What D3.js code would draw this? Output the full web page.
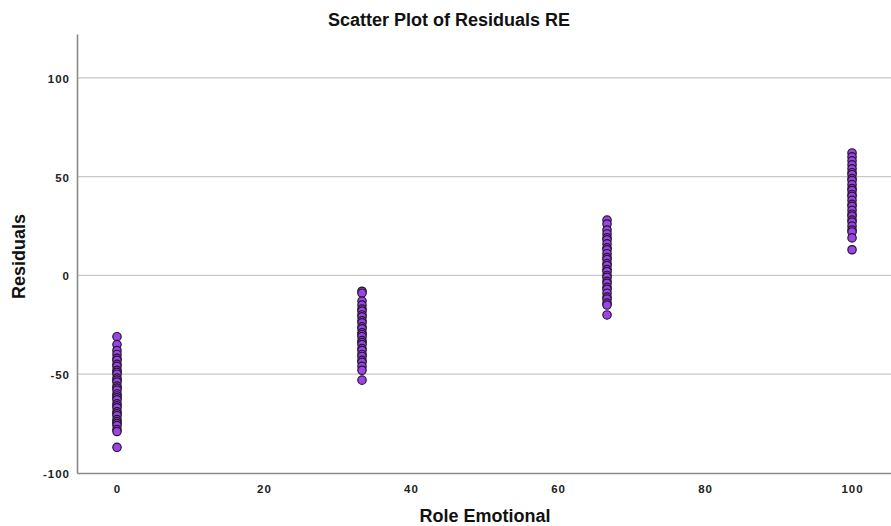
<!DOCTYPE html>
<html>
<head>
<meta charset="utf-8">
<script src="https://cdn.jsdelivr.net/npm/d3@7"></script>
<style>
  html, body { margin: 0; padding: 0; background: #fff; }
  svg { display: block; font-family: "Liberation Sans", Arial, Helvetica, sans-serif; }
</style>
</head>
<body>
<svg id="chart" width="891" height="526"></svg>
<script>
// Residuals grouped by Role Emotional score
const re0   = [-31, -35, -38, -40, -42, -43, -45, -46, -48, -49, -50, -52, -53, -54, -56, -57, -58, -60, -61, -62, -63, -65, -66, -67, -69, -70, -71, -73, -74, -75, -76, -78, -79, -87];
const re33  = [-8, -9, -13, -15, -17, -18, -20, -21, -23, -24, -26, -27, -29, -30, -31, -33, -34, -35, -37, -38, -40, -41, -43, -44, -46, -48, -53];
const re67  = [28, 26, 23, 21, 19, 18, 16, 14, 13, 11, 9, 8, 6, 5, 3, 2, 0, -1, -3, -4, -6, -7, -9, -11, -12, -14, -15, -20];
const re100 = [62, 60, 58, 56, 54, 52, 51, 49, 48, 46, 44, 43, 41, 40, 38, 36, 35, 33, 31, 30, 28, 27, 25, 23, 22, 19, 13];

const groups = [
  { x: 0,       values: re0 },
  { x: 100 / 3, values: re33 },
  { x: 200 / 3, values: re67 },
  { x: 100,     values: re100 }
];

const xTicks = [0, 20, 40, 60, 80, 100];
const yTicks = [-100, -50, 0, 50, 100];
const gridTicks = [-50, 0, 50, 100];

const points = groups.flatMap(g => g.values.map(v => ({ x: g.x, y: v })));

const svg = d3.select("#chart");
const plotLeft = 77, plotRight = 891, plotTop = 34, plotBottom = 473;

const x = d3.scaleLinear().domain([-5.44, 105.3]).range([plotLeft, plotRight]);
const y = d3.scaleLinear().domain([-100, 122.2]).range([plotBottom, plotTop]);

// horizontal reference lines
svg.append("g")
  .selectAll("line")
  .data(gridTicks)
  .join("line")
  .attr("x1", plotLeft).attr("x2", plotRight)
  .attr("y1", d => y(d)).attr("y2", d => y(d))
  .attr("stroke", "#c8c8c8")
  .attr("stroke-width", 1.2);

// axes (plain hyphen for negative labels)
const plain = d => String(d);
const xAxis = d3.axisBottom(x).tickValues(xTicks).tickFormat(plain).tickSize(0).tickPadding(12);
const yAxis = d3.axisLeft(y).tickValues(yTicks).tickFormat(plain).tickSize(0).tickPadding(7);

const gx = svg.append("g").attr("transform", `translate(0,${plotBottom})`).call(xAxis);
const gy = svg.append("g").attr("transform", `translate(${plotLeft},0)`).call(yAxis);

[gx, gy].forEach(g => {
  g.select(".domain").attr("stroke", "#8a8a8a").attr("stroke-width", 1.6);
  g.selectAll("text")
    .attr("fill", "#222")
    .style("font-size", "11.5px")
    .style("font-weight", "bold")
    .style("letter-spacing", "1px");
});
gy.selectAll("text").attr("dy", "0.38em");

// points
svg.append("g")
  .selectAll("circle")
  .data(points)
  .join("circle")
  .attr("cx", d => x(d.x))
  .attr("cy", d => y(d.y))
  .attr("r", 4.2)
  .attr("fill", "#9b45e8")
  .attr("stroke", "#24142c")
  .attr("stroke-width", 1.2);

// titles
svg.append("text")
  .attr("x", 449).attr("y", 26)
  .attr("text-anchor", "middle")
  .style("font-size", "18px").style("font-weight", "bold")
  .attr("fill", "#111")
  .text("Scatter Plot of Residuals RE");

svg.append("text")
  .attr("x", 485).attr("y", 522)
  .attr("text-anchor", "middle")
  .style("font-size", "18px").style("font-weight", "bold")
  .attr("fill", "#111")
  .text("Role Emotional");

svg.append("text")
  .attr("transform", `translate(25,${(plotTop + plotBottom) / 2 + 3}) rotate(-90)`)
  .attr("text-anchor", "middle")
  .style("font-size", "18px").style("font-weight", "bold")
  .attr("fill", "#111")
  .text("Residuals");
</script>
</body>
</html>
